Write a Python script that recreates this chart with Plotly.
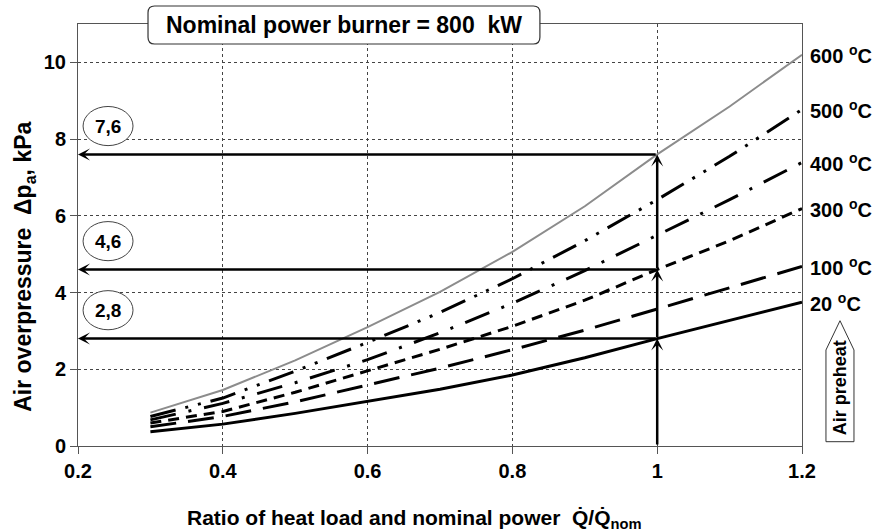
import plotly.graph_objects as go

# ---------------- data ----------------
load_ratio = [0.3, 0.4, 0.5, 0.6, 0.7, 0.8, 0.9, 1.0, 1.1, 1.2]
dp_20 = [0.37, 0.57, 0.85, 1.16, 1.48, 1.85, 2.30, 2.80, 3.27, 3.75]
dp_100 = [0.50, 0.77, 1.15, 1.59, 2.03, 2.51, 3.02, 3.57, 4.12, 4.68]
dp_300 = [0.60, 0.90, 1.40, 1.97, 2.52, 3.12, 3.80, 4.60, 5.35, 6.19]
dp_400 = [0.68, 1.11, 1.65, 2.25, 2.95, 3.72, 4.57, 5.50, 6.42, 7.39]
dp_500 = [0.77, 1.25, 1.95, 2.70, 3.48, 4.36, 5.35, 6.42, 7.55, 8.77]
dp_600 = [0.87, 1.46, 2.23, 3.10, 4.02, 5.06, 6.25, 7.60, 8.85, 10.20]

preheat_labels = ["20 <sup>o</sup>C", "100 <sup>o</sup>C", "300 <sup>o</sup>C",
                  "400 <sup>o</sup>C", "500 <sup>o</sup>C", "600 <sup>o</sup>C"]

nominal_ratio = 1.0
readout_values = [7.6, 4.6, 2.8]
readout_labels = ["7,6", "4,6", "2,8"]

x_tick_vals = [0.2, 0.4, 0.6, 0.8, 1.0, 1.2]
x_tick_text = ["0.2", "0.4", "0.6", "0.8", "1", "1.2"]
y_tick_vals = [0, 2, 4, 6, 8, 10]
y_tick_text = ["0", "2", "4", "6", "8", "10"]

title_text = "Nominal power burner = 800  kW"
x_title = "Ratio of heat load and nominal power  Q\u0307/Q\u0307<sub>nom</sub>"
y_title = "Air overpressure  \u0394p<sub>a</sub>, kPa"
preheat_text = "Air preheat"

# ---------------- styles ----------------
FONT = "Liberation Sans, Arial, sans-serif"
series = [dp_20, dp_100, dp_300, dp_400, dp_500, dp_600]
styles = [
    dict(color="black", width=3, dash="solid"),
    dict(color="black", width=3, dash="26px,12px"),
    dict(color="black", width=3, dash="11px,7px"),
    dict(color="black", width=3, dash="26px,13px,3px,13px"),
    dict(color="black", width=3, dash="26px,10px,3px,10px,3px,10px"),
    dict(color="#8c8c8c", width=2, dash="solid"),
]

fig = go.Figure()
for ys, st in zip(series, styles):
    fig.add_trace(go.Scatter(x=load_ratio, y=ys, mode="lines", line=st,
                             showlegend=False, hoverinfo="skip"))

annotations = []
shapes = []

# curve labels on the right
for ys, lab in zip(series, preheat_labels):
    annotations.append(dict(x=load_ratio[-1], y=ys[-1], xref="x", yref="y",
                            text="<b>" + lab + "</b>", showarrow=False,
                            xanchor="left", yanchor="middle", xshift=6,
                            font=dict(family=FONT, size=20, color="black")))

# horizontal readout arrows
for v in readout_values:
    annotations.append(dict(x=0.2, y=v, ax=nominal_ratio, ay=v,
                            xref="x", yref="y", axref="x", ayref="y",
                            text="", showarrow=True, arrowhead=3,
                            arrowsize=0.8, arrowwidth=2.5, arrowcolor="black",
                            standoff=0, startstandoff=0))

# vertical arrows at nominal ratio
levels = [0] + sorted(readout_values)
for lo, hi in zip(levels[:-1], levels[1:]):
    annotations.append(dict(x=nominal_ratio, y=hi, ax=nominal_ratio, ay=lo,
                            xref="x", yref="y", axref="x", ayref="y",
                            text="", showarrow=True, arrowhead=3,
                            arrowsize=0.8, arrowwidth=2.5, arrowcolor="black",
                            standoff=0, startstandoff=0))

# readout ellipses
for v, lab in zip(readout_values, readout_labels):
    cy = v + 0.74
    shapes.append(dict(type="circle", xref="x", yref="y",
                       x0=0.207, x1=0.276, y0=cy - 0.51, y1=cy + 0.51,
                       line=dict(color="#444", width=1), fillcolor="white",
                       layer="above"))
    annotations.append(dict(x=0.2415, y=cy, xref="x", yref="y",
                            text="<b>" + lab + "</b>", showarrow=False,
                            font=dict(family=FONT, size=19, color="black")))

# title box with rounded corners (paper coordinates)
bx0, bx1, by0, by1 = 0.0967, 0.638, 0.9526, 1.0427
rx, ry = 0.009, 0.016
path = (f"M {bx0+rx},{by0} L {bx1-rx},{by0} Q {bx1},{by0} {bx1},{by0+ry} "
        f"L {bx1},{by1-ry} Q {bx1},{by1} {bx1-rx},{by1} "
        f"L {bx0+rx},{by1} Q {bx0},{by1} {bx0},{by1-ry} "
        f"L {bx0},{by0+ry} Q {bx0},{by0} {bx0+rx},{by0} Z")
shapes.append(dict(type="path", xref="paper", yref="paper", path=path,
                   line=dict(color="#333", width=1.2), fillcolor="white",
                   layer="above"))
annotations.append(dict(x=(bx0 + bx1) / 2, y=(by0 + by1) / 2, xref="paper",
                        yref="paper", text="<b>" + title_text + "</b>",
                        showarrow=False, xanchor="center", yanchor="middle",
                        font=dict(family=FONT, size=23, color="black")))

# Air preheat arrow box
ax0, ax1, axm = 1.0331, 1.0718, 1.0525
ay0, ays, ayt = 0.0102, 0.2275, 0.2969
shapes.append(dict(type="path", xref="paper", yref="paper",
                   path=f"M {ax0},{ay0} L {ax1},{ay0} L {ax1},{ays} L {axm},{ayt} L {ax0},{ays} Z",
                   line=dict(color="#333", width=1), fillcolor="white"))
annotations.append(dict(x=axm, y=0.137, xref="paper", yref="paper",
                        text="<b>" + preheat_text + "</b>", textangle=-90,
                        showarrow=False, xanchor="center", yanchor="middle",
                        font=dict(family=FONT, size=18, color="black")))

# axis titles
annotations.append(dict(x=0.465, y=-0.172, xref="paper", yref="paper",
                        text="<b>" + x_title + "</b>", showarrow=False,
                        xanchor="center", yanchor="middle",
                        font=dict(family=FONT, size=21, color="black")))
annotations.append(dict(x=-0.073, y=0.425, xref="paper", yref="paper",
                        text="<b>" + y_title + "</b>", textangle=-90,
                        showarrow=False, xanchor="center", yanchor="middle",
                        font=dict(family=FONT, size=23, color="black")))

axis_common = dict(showgrid=True, gridcolor="#444", griddash="dot", gridwidth=1,
                   showline=True, linecolor="#555", linewidth=1, mirror=True,
                   ticks="outside", ticklen=7, tickcolor="#555", zeroline=False,
                   tickfont=dict(family=FONT, size=20, color="black"))

fig.update_layout(
    width=876, height=531,
    margin=dict(l=78, r=74, t=24, b=85),
    paper_bgcolor="white", plot_bgcolor="white",
    xaxis=dict(range=[0.2, 1.2], tickvals=x_tick_vals, ticktext=["<b>" + t + "</b>" for t in x_tick_text],
               **axis_common),
    yaxis=dict(range=[0, 11], tickvals=y_tick_vals, ticktext=["<b>" + t + "</b>" for t in y_tick_text],
               **axis_common),
    annotations=annotations,
    shapes=shapes,
)

fig.write_html("out.html", config={"displayModeBar": False},
               post_script="document.body.style.margin='0';document.body.style.padding='0';")
